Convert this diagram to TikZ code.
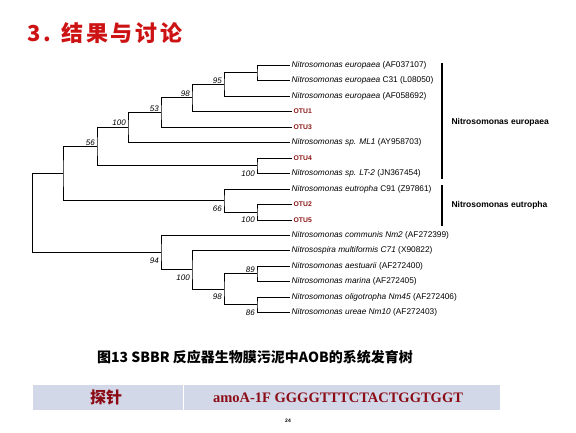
\documentclass[tikz,border=0pt]{standalone}
\usepackage{fontspec}
\setmainfont{Liberation Sans}
\newfontfamily\cjk{Noto Sans CJK SC}
\newfontfamily\cjktitle{Noto Sans CJK SC}[LetterSpace=12]
\newfontfamily\timesfont{Liberation Serif}

\definecolor{otured}{RGB}{140,22,22}
\definecolor{titlered}{RGB}{204,18,18}
\definecolor{probered}{RGB}{140,12,22}
\definecolor{rowblue}{RGB}{210,216,232}

\tikzset{
  branch/.style={line width=0.9pt},
  leaf/.style={anchor=west, inner sep=1.5pt, font=\fontsize{8.3}{9}\selectfont},
  otu/.style={leaf, text=otured, font=\fontsize{6.8}{8}\selectfont\bfseries, xshift=2pt},
  boot/.style={inner sep=1pt, font=\fontsize{8}{9}\selectfont\itshape},
  bootup/.style={boot, anchor=south east, xshift=-1pt},
  bootdown/.style={boot, anchor=north east, xshift=-1pt, yshift=-4pt},
  clade/.style={anchor=west, font=\fontsize{8.5}{10}\selectfont\bfseries},
  bracket/.style={line width=1.4pt},
}

\begin{document}
\begin{tikzpicture}[x=1pt, y=-1pt]
  \useasboundingbox (0,0) rectangle (576,432);

  % Title
  \node[anchor=west, text=titlered, font=\fontsize{22}{24}\selectfont\cjktitle\bfseries] (title) at (24,33) {3. 结果与讨论};

  % Leaves
  \node[leaf] (l0) at (290,65) {\textit{Nitrosomonas europaea} (AF037107)};
  \node[leaf] (l1) at (290,80.5) {\textit{Nitrosomonas europaea} C31 (L08050)};
  \node[leaf] (l2) at (290,96) {\textit{Nitrosomonas europaea} (AF058692)};
  \node[otu]  (l3) at (290,111) {OTU1};
  \node[otu]  (l4) at (290,127) {OTU3};
  \node[leaf] (l5) at (290,142) {\textit{Nitrosomonas sp. ML1} (AY958703)};
  \node[otu]  (l6) at (290,158) {OTU4};
  \node[leaf] (l7) at (290,173) {\textit{Nitrosomonas sp. LT-2} (JN367454)};
  \node[leaf] (l8) at (290,189) {\textit{Nitrosomonas eutropha} C91 (Z97861)};
  \node[otu]  (l9) at (290,204) {OTU2};
  \node[otu]  (l10) at (290,220) {OTU5};
  \node[leaf] (l11) at (290,235) {\textit{Nitrosomonas communis Nm2} (AF272399)};
  \node[leaf] (l12) at (290,250) {\textit{Nitrosospira multiformis C71} (X90822)};
  \node[leaf] (l13) at (290,266) {\textit{Nitrosomonas aestuarii} (AF272400)};
  \node[leaf] (l14) at (290,281) {\textit{Nitrosomonas marina} (AF272405)};
  \node[leaf] (l15) at (290,297) {\textit{Nitrosomonas oligotropha Nm45} (AF272406)};
  \node[leaf] (l16) at (290,312) {\textit{Nitrosomonas ureae Nm10} (AF272403)};

  % Inner nodes
  \coordinate (c12) at (257,72.75);
  \coordinate (n95) at (224,84.4);
  \coordinate (n98) at (192,97.7);
  \coordinate (n53) at (161,112.3);
  \coordinate (n100a) at (128,127.2);
  \coordinate (c67) at (257,165.5);
  \coordinate (n56) at (97,146.3);
  \coordinate (c910) at (257,212);
  \coordinate (n66) at (224,200.5);
  \coordinate (n63) at (63,173.4);
  \coordinate (c1314) at (257,273.5);
  \coordinate (c1516) at (257,304.5);
  \coordinate (n98b) at (224,289);
  \coordinate (n100b) at (192,269.5);
  \coordinate (n94) at (161,252.3);
  \coordinate (root) at (32,252.3);

  % Branches
  \draw[branch] (l0.west) -| (c12) |- (l1.west);
  \draw[branch] (c12) -| (n95) |- (l2.west);
  \draw[branch] (n95) -| (n98) |- (l3.west);
  \draw[branch] (n98) -| (n53) |- (l4.west);
  \draw[branch] (n53) -| (n100a) |- (l5.west);
  \draw[branch] (l6.west) -| (c67) |- (l7.west);
  \draw[branch] (n100a) -| (n56) |- (c67);
  \draw[branch] (l9.west) -| (c910) |- (l10.west);
  \draw[branch] (l8.west) -| (n66) |- (c910);
  \draw[branch] (n56) -| (n63) |- (n66);
  \draw[branch] (l13.west) -| (c1314) |- (l14.west);
  \draw[branch] (l15.west) -| (c1516) |- (l16.west);
  \draw[branch] (c1314) -| (n98b) |- (c1516);
  \draw[branch] (l12.west) -| (n100b) |- (n98b);
  \draw[branch] (l11.west) -| (n94) |- (n100b);
  \draw[branch] (n63) -| (root) |- (n94);

  % Bootstrap values
  \node[bootup] (s95) at (n95) {95};
  \node[bootup] (s98) at (n98) {98};
  \node[bootup] (s53) at (n53) {53};
  \node[bootup] (s100a) at (n100a) {100};
  \node[bootup] (s56) at (n56) {56};
  \node[bootdown] (s100c) at (c67) {100};
  \node[bootdown] (s66) at (n66) {66};
  \node[bootdown] (s100d) at (c910) {100};
  \node[bootdown] (s94) at (n94) {94};
  \node[bootdown] (s100b) at (n100b) {100};
  \node[bootdown] (s98b) at (n98b) {98};
  \node[bootup] (s89) at (c1314) {89};
  \node[bootdown] (s86) at (c1516) {86};

  % Clade brackets
  \coordinate (e1top) at (442,63);
  \coordinate (e1bot) at (442,179);
  \coordinate (e2top) at (442,185);
  \coordinate (e2bot) at (442,226);
  \draw[bracket] (e1top) -- (e1bot);
  \draw[bracket] (e2top) -- (e2bot);
  \node[clade] (europaea) at (448,122) {Nitrosomonas europaea};
  \node[clade] (eutropha) at (448,205) {Nitrosomonas eutropha};

  % Caption
  \node[font=\fontsize{14}{16}\selectfont\cjk\bfseries] (caption) at (255,357) {图13 SBBR 反应器生物膜污泥中AOB的系统发育树};

  % Probe row
  \fill[rowblue] (33,385) rectangle (500,410);
  \draw[white, line width=1pt] (183,385) -- (183,410);
  \node[text=probered, font=\fontsize{16}{18}\selectfont\cjk\bfseries] (probe) at (106,397.5) {探针};
  \node[text=probered, font=\fontsize{14.5}{16}\selectfont\timesfont\bfseries] (seq) at (338,397.5) {amoA-1F GGGGTTTCTACTGGTGGT};

  % Page number
  \node[font=\fontsize{5}{6}\selectfont\bfseries] (page) at (288,421) {24};
\end{tikzpicture}
\end{document}
